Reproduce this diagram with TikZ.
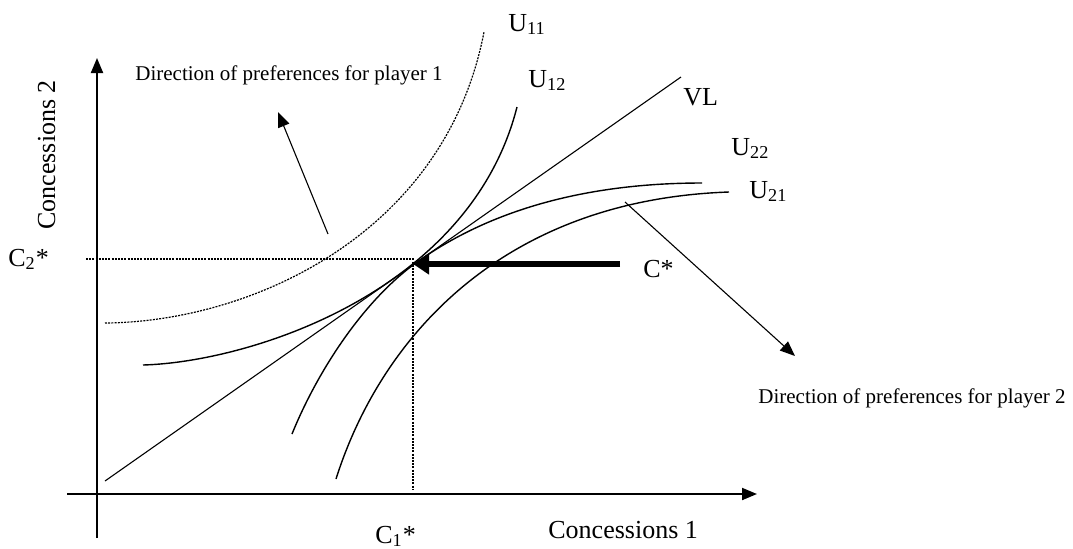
\documentclass[tikz,border=0pt]{standalone}
\usepackage{fontspec}
\setmainfont{Liberation Serif}
\usetikzlibrary{arrows.meta}

\begin{document}
\begin{tikzpicture}[
	x=0.5pt, y=-0.5pt,
	lbl/.style={font=\fontsize{13}{15}\selectfont, inner sep=0pt, anchor=base west},
	note/.style={font=\fontsize{10.5}{12}\selectfont, inner sep=0pt, anchor=base west},
	axis/.style={-{Triangle[length=7.5pt,width=6pt]}, line width=1pt},
	guide/.style={dash pattern=on 1pt off 0.6pt, line width=0.8pt},
	indiff/.style={line width=0.7pt},
	prefarrow/.style={-{Triangle[length=7.5pt,width=6pt]}, line width=0.55pt},
	bigarrow/.style={-{Triangle[length=8pt,width=10pt]}, line width=2.6pt}
]
\useasboundingbox (0,0) rectangle (1073,548);

% Axes and the point C*.
\coordinate (xstart) at (67,494);
\coordinate (xend) at (757,494);
\coordinate (ystart) at (97,538);
\coordinate (yend) at (97,58);
\coordinate (cstar) at (413,259);
\coordinate (c2mark) at (86,259);
\coordinate (c1mark) at (413,489);

\draw[axis] (xstart) -- (xend);
\draw[axis] (ystart) -- (yend);
\draw[guide] (c2mark) -- (cstar) -- (c1mark);

\node[lbl, rotate=90] (conc2) at (55,230) {Concessions 2};
\node[lbl] (conc1) at (548,538) {Concessions 1};
\node[lbl] (c1lab) at (375,543) {C\textsubscript{1}*};
\node[lbl] (c2lab) at (8,266) {C\textsubscript{2}*};
\node[lbl] (cslab) at (643,277) {C*};

% Indifference curves and the VL line.
\coordinate (vlstart) at (105,481);
\coordinate (vlend) at (681,77);
\draw[line width=0.55pt] (vlstart) -- (vlend);

\draw[guide, line width=0.6pt] (105,323) .. controls (250,322) and (445,235) .. (484,32);
\draw[indiff] (143,365) .. controls (250,362) and (470,292) .. (517,107);
\draw[indiff] (292,434) .. controls (318,370) and (365,298) .. (420,260)
	.. controls (500,204) and (600,183) .. (702,183);
\draw[indiff] (336,479) .. controls (380,340) and (500,200) .. (729,192);

\node[lbl] (u11) at (508,31) {U\textsubscript{11}};
\node[lbl] (u12) at (528,87) {U\textsubscript{12}};
\node[lbl] (u22) at (731,155) {U\textsubscript{22}};
\node[lbl] (u21) at (749,198) {U\textsubscript{21}};
\node[lbl] (vl) at (683,105) {VL};

% Directions of preference.
\coordinate (p1tail) at (328,234);
\coordinate (p1tip) at (278,112);
\coordinate (p2tail) at (625,202);
\coordinate (p2tip) at (795,356);
\coordinate (cstail) at (620,264);
\coordinate (cstip) at (413,264);

\draw[prefarrow] (p1tail) -- (p1tip);
\draw[prefarrow] (p2tail) -- (p2tip);
\draw[bigarrow] (cstail) -- (cstip);

\node[note] (pref1) at (135,80) {Direction of preferences for player 1};
\node[note] (pref2) at (758,403) {Direction of preferences for player 2};

\end{tikzpicture}
\end{document}
